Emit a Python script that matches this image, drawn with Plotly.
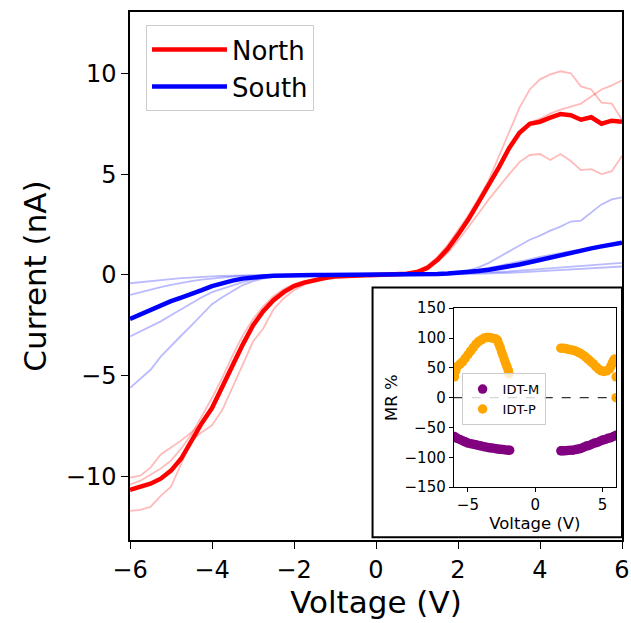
import plotly.graph_objects as go

# ---------------- data ----------------
voltage = [-6.0, -5.75, -5.5, -5.25, -5.0, -4.75, -4.5, -4.25, -4.0, -3.75, -3.5, -3.25,
           -3.0, -2.75, -2.5, -2.25, -2.0, -1.75, -1.5, -1.25, -1.0, -0.75, -0.5, -0.25,
           0.0, 0.25, 0.5, 0.75, 1.0, 1.25, 1.5, 1.75, 2.0, 2.25, 2.5, 2.75,
           3.0, 3.25, 3.5, 3.75, 4.0, 4.25, 4.5, 4.75, 5.0, 5.25, 5.5, 5.75, 6.0]

north_mean = [-10.65, -10.5, -10.35, -10.1, -9.7, -9.1, -8.2, -7.35, -6.6, -5.5, -4.5, -3.45,
              -2.5, -1.8, -1.25, -0.85, -0.55, -0.38, -0.25, -0.15, -0.08, -0.04, -0.02, -0.01,
              0.0, 0.01, 0.02, 0.06, 0.15, 0.35, 0.75, 1.3, 2.0, 2.75, 3.6, 4.45,
              5.35, 6.3, 7.05, 7.5, 7.6, 7.8, 7.98, 7.92, 7.7, 7.82, 7.5, 7.65, 7.6]
north_run1 = [-10.05, -9.95, -9.55, -8.9, -8.55, -8.2, -7.8, -7.3, -6.5, -5.4, -4.3, -3.3,
              -2.4, -1.7, -1.15, -0.8, -0.5, -0.33, -0.22, -0.13, -0.07, -0.03, -0.02, -0.01,
              0.0, 0.01, 0.03, 0.08, 0.2, 0.45, 0.9, 1.5, 2.2, 2.95, 3.8, 4.7,
              5.9, 7.1, 8.3, 9.2, 9.7, 9.95, 10.1, 10.0, 9.35, 9.2, 8.55, 8.5, 7.7]
north_run2 = [-11.7, -11.65, -11.5, -10.95, -10.5, -9.35, -8.2, -7.8, -7.45, -6.7, -5.6, -4.45,
              -3.3, -2.65, -1.7, -1.15, -0.75, -0.48, -0.3, -0.18, -0.1, -0.05, -0.02, -0.01,
              0.0, 0.01, 0.02, 0.05, 0.13, 0.3, 0.7, 1.2, 1.9, 2.65, 3.5, 4.35,
              5.25, 6.2, 7.05, 7.55, 7.75, 8.0, 8.2, 8.35, 8.5, 8.85, 9.2, 9.4, 9.65]
north_run3 = [-10.4, -10.2, -9.9, -9.6, -9.2, -8.6, -7.9, -7.0, -6.1, -5.1, -4.0, -3.0,
              -2.2, -1.55, -1.05, -0.7, -0.45, -0.3, -0.2, -0.12, -0.06, -0.03, -0.01, 0.0,
              0.0, 0.01, 0.02, 0.05, 0.14, 0.32, 0.65, 1.1, 1.7, 2.35, 3.05, 3.75,
              4.4, 5.0, 5.6, 5.95, 6.0, 5.7, 6.0, 5.65, 5.2, 5.25, 5.0, 5.15, 5.9]

south_mean = [-2.18, -1.95, -1.72, -1.5, -1.3, -1.12, -0.95, -0.75, -0.55, -0.4, -0.28, -0.18,
              -0.11, -0.07, -0.04, -0.02, -0.01, 0.0, 0.0, 0.0, 0.0, 0.0, 0.0, 0.0,
              0.0, 0.0, 0.0, 0.01, 0.02, 0.03, 0.05, 0.07, 0.1, 0.14, 0.2, 0.26,
              0.33, 0.42, 0.52, 0.63, 0.75, 0.87, 0.99, 1.12, 1.22, 1.32, 1.42, 1.5, 1.6]
south_run1 = [-5.6, -5.15, -4.7, -4.05, -3.5, -3.0, -2.5, -2.0, -1.45, -1.1, -0.78, -0.5,
              -0.3, -0.18, -0.1, -0.05, -0.03, -0.02, -0.01, 0.0, 0.0, 0.0, 0.0, 0.0,
              0.0, 0.0, 0.0, 0.01, 0.02, 0.04, 0.07, 0.1, 0.13, 0.22, 0.38, 0.6,
              0.88, 1.15, 1.45, 1.75, 1.95, 2.2, 2.4, 2.65, 2.7, 3.1, 3.5, 3.75, 3.85]
south_run2 = [-3.05, -2.8, -2.55, -2.3, -2.0, -1.7, -1.4, -1.1, -0.85, -0.68, -0.52, -0.35,
              -0.22, -0.13, -0.07, -0.04, -0.02, -0.01, 0.0, 0.0, 0.0, 0.0, 0.0, 0.0,
              0.0, 0.0, 0.0, 0.01, 0.02, 0.04, 0.06, 0.09, 0.13, 0.19, 0.26, 0.35,
              0.45, 0.55, 0.66, 0.78, 0.9, 1.0, 1.08, 1.18, 1.25, 1.33, 1.4, 1.5, 1.55]
south_run3 = [-0.99, -0.85, -0.72, -0.6, -0.49, -0.39, -0.3, -0.23, -0.17, -0.12, -0.08, -0.05,
              -0.03, -0.02, -0.01, 0.0, 0.0, 0.0, 0.0, 0.0, 0.0, 0.0, 0.0, 0.0,
              0.0, 0.0, 0.0, 0.0, 0.01, 0.02, 0.03, 0.04, 0.06, 0.08, 0.1, 0.12,
              0.15, 0.18, 0.22, 0.26, 0.3, 0.34, 0.38, 0.41, 0.45, 0.48, 0.52, 0.56, 0.6]
south_run4 = [-0.41, -0.35, -0.3, -0.25, -0.2, -0.16, -0.12, -0.09, -0.07, -0.05, -0.03, -0.02,
              -0.01, 0.0, 0.0, 0.0, 0.0, 0.0, 0.0, 0.0, 0.0, 0.0, 0.0, 0.0,
              0.0, 0.0, 0.0, 0.0, 0.0, 0.01, 0.01, 0.02, 0.03, 0.04, 0.05, 0.07,
              0.09, 0.11, 0.13, 0.16, 0.19, 0.22, 0.25, 0.28, 0.3, 0.33, 0.36, 0.39, 0.42]

# inset (magnetoresistance)
idtm_v = [-6.0, -5.8, -5.6, -5.4, -5.2, -5.0, -4.8, -4.6, -4.4, -4.2, -4.0, -3.8, -3.6, -3.4,
          -3.2, -3.0, -2.8, -2.6, -2.4, -2.2, -2.0, -1.9,
          1.9, 2.0, 2.2, 2.4, 2.6, 2.8, 3.0, 3.2, 3.4, 3.6, 3.8, 4.0, 4.2, 4.4,
          4.6, 4.8, 5.0, 5.2, 5.4, 5.6, 5.8, 6.0]
idtm_mr = [-65, -68, -70, -72, -74, -76, -77, -78, -79, -80, -81, -82, -83, -84,
           -84.5, -85, -86, -86.5, -87, -87.5, -88, -88,
           -89, -89, -89, -88.5, -88, -88, -87, -86, -85, -83, -81, -80, -78, -76,
           -75, -73, -71, -70, -68, -67, -65, -63]
idtp_v = [-6.0, -6.0, -5.9, -5.8, -5.6, -5.4, -5.2, -5.0, -4.8, -4.6, -4.4, -4.2, -4.0, -3.8,
          -3.6, -3.4, -3.2, -3.0, -2.9, -2.8, -2.7, -2.6, -2.5, -2.4, -2.3, -2.2, -2.1, -2.0, -1.95,
          1.9, 2.1, 2.3, 2.5, 2.7, 2.9, 3.1, 3.3, 3.5, 3.7, 3.9, 4.1, 4.3, 4.5, 4.7,
          4.9, 5.1, 5.3, 5.5, 5.6, 5.7, 5.8, 5.9, 5.95, 6.0, 6.0]
idtp_mr = [35, 50, 45, 52, 56, 60, 66, 72, 78, 84, 90, 94, 97, 100,
           101, 101, 100, 99, 98, 96, 90, 84, 77, 71, 64, 58, 52, 46, 40,
           83, 83, 82, 81, 80, 79, 77, 75, 72, 69, 65, 61, 57, 52, 48,
           45, 44, 45, 48, 52, 57, 62, 65, 60, 35, 0]

main_ticks = [-10, -5, 0, 5, 10]
volt_ticks = [-6, -4, -2, 0, 2, 4, 6]
inset_vticks = [-5, 0, 5]
inset_mrticks = [-150, -100, -50, 0, 50, 100, 150]

FONT = "DejaVu Sans"
fig = go.Figure()

for run in [north_run1, north_run2, north_run3]:
    fig.add_trace(go.Scatter(x=voltage, y=run, mode="lines", showlegend=False,
                             line=dict(color="rgba(255,0,0,0.27)", width=1.8)))
fig.add_trace(go.Scatter(x=voltage, y=north_mean, mode="lines", name="North",
                         line=dict(color="#ff0000", width=4.5)))
for run in [south_run1, south_run2, south_run3, south_run4]:
    fig.add_trace(go.Scatter(x=voltage, y=run, mode="lines", showlegend=False,
                             line=dict(color="rgba(0,0,255,0.27)", width=1.8)))
fig.add_trace(go.Scatter(x=voltage, y=south_mean, mode="lines", name="South",
                         line=dict(color="#0000ff", width=4.5)))

fig.add_trace(go.Scatter(x=idtm_v, y=idtm_mr, mode="markers", name="IDT-M",
                         xaxis="x2", yaxis="y2", legend="legend2",
                         marker=dict(color="#800080", size=9.5, line=dict(width=0))))
fig.add_trace(go.Scatter(x=idtp_v, y=idtp_mr, mode="markers", name="IDT-P",
                         xaxis="x2", yaxis="y2", legend="legend2",
                         marker=dict(color="#ffa500", size=9.5, line=dict(width=0))))

# inset frame
fig.add_shape(type="rect", xref="paper", yref="paper", x0=0.493, x1=1.0, y0=0.005, y1=0.478,
              line=dict(color="black", width=2), fillcolor="white", layer="below")
# zero line in inset
fig.add_shape(type="line", xref="x2 domain", yref="y2", x0=0, x1=1, y0=0, y1=0,
              line=dict(color="black", width=1, dash="dash"))

axis_common = dict(showgrid=False, zeroline=False, showline=True, mirror=True,
                   linecolor="black", ticks="outside", tickcolor="black", automargin=False)

fig.update_layout(
    width=631, height=623,
    margin=dict(l=130, r=9, t=12, b=83),
    paper_bgcolor="white", plot_bgcolor="white",
    font=dict(family=FONT, color="black"),
    xaxis=dict(range=[-6, 6], tickvals=volt_ticks, linewidth=1.5, ticklen=7,
               tickfont=dict(size=24),
               title=dict(text="Voltage (V)", font=dict(size=31), standoff=8),
               **axis_common),
    yaxis=dict(range=[-13.14, 13.04], tickvals=main_ticks, linewidth=1.5, ticklen=7,
               tickfont=dict(size=24),
               title=dict(text="Current (nA)", font=dict(size=31), standoff=10),
               **axis_common),
    xaxis2=dict(domain=[0.658, 0.988], anchor="y2", range=[-6.05, 6.0], tickvals=inset_vticks,
                linewidth=1, ticklen=4, tickfont=dict(size=15),
                title=dict(text="Voltage (V)", font=dict(size=16.5), standoff=2),
                **axis_common),
    yaxis2=dict(domain=[0.100, 0.439], anchor="x2", range=[-150, 150], tickvals=inset_mrticks,
                linewidth=1, ticklen=4, tickfont=dict(size=15),
                title=dict(text="MR %", font=dict(size=16.5), standoff=2),
                **axis_common),
    legend=dict(x=0.0325, y=0.975, xanchor="left", yanchor="top", font=dict(size=26),
                bgcolor="white", bordercolor="#cccccc", borderwidth=1, itemwidth=75),
    legend2=dict(x=0.674, y=0.316, xanchor="left", yanchor="top", font=dict(size=13),
                 bgcolor="rgba(255,255,255,0.8)", bordercolor="#cccccc", borderwidth=1),
)

fig.write_html("out.html")
